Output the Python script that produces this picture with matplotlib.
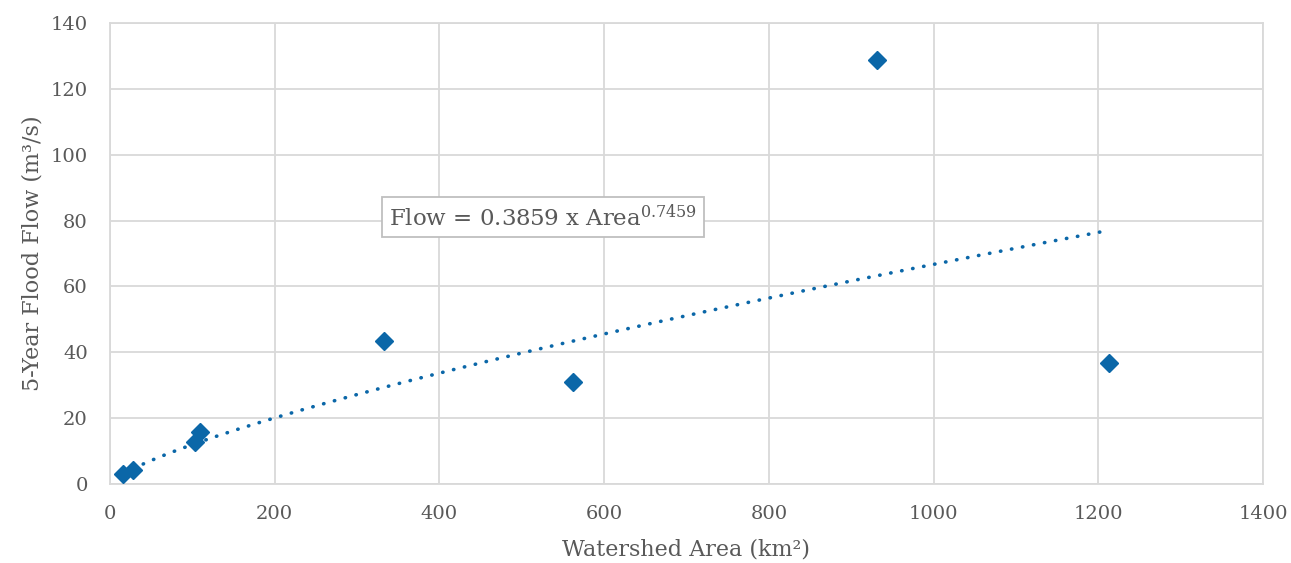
import numpy as np
import matplotlib
matplotlib.use("Agg")
import matplotlib.pyplot as plt

# watershed area (km2) and 5-year flood flow (m3/s)
area = [16, 28, 103, 109, 333, 562, 931, 1213]
flow = [3.0, 4.2, 12.8, 15.8, 43.4, 31.0, 128.8, 36.7]

# power trend shown on the chart
coef = 0.3859
expo = 0.7459

x_ticks = [0, 200, 400, 600, 800, 1000, 1200, 1400]
y_ticks = [0, 20, 40, 60, 80, 100, 120, 140]

blue = "#0B67A8"
grey_text = "#595959"
grid_col = "#D9D9D9"

plt.rcParams["font.family"] = ["DejaVu Serif"]
plt.rcParams["mathtext.fontset"] = "dejavuserif"

fig = plt.figure(figsize=(12.91, 5.63), dpi=100)
ax = fig.add_axes([0.0852, 0.1403, 0.8931, 0.8188])

trend_x = np.linspace(min(area), max(area), 200)
trend_y = coef * trend_x ** expo
ax.plot(trend_x, trend_y, linestyle=(0, (0.1, 3.0)), color=blue, linewidth=2.6,
        dash_capstyle="round", zorder=2)
ax.plot(area, flow, linestyle="none", marker="D", markersize=9.5, color=blue, zorder=3)

ax.set_xlim(0, 1400)
ax.set_ylim(0, 140)
ax.set_xticks(x_ticks)
ax.set_yticks(y_ticks)
ax.grid(True, color=grid_col, linewidth=1.3)
ax.set_axisbelow(True)
for spine in ax.spines.values():
    spine.set_color(grid_col)
    spine.set_linewidth(1.3)
ax.tick_params(length=0, labelsize=14, colors=grey_text)
ax.tick_params(axis="x", pad=15)
ax.tick_params(axis="y", pad=16)

ax.set_xlabel("Watershed Area (km²)", fontsize=16, color=grey_text, labelpad=11)
ax.set_ylabel("5-Year Flood Flow (m³/s)", fontsize=16, color=grey_text, labelpad=5)

ax.text(526, 81, f"Flow = {coef} x Area$^{{{expo}}}$", fontsize=16.5, color=grey_text,
        ha="center", va="center",
        bbox=dict(boxstyle="square,pad=0.3", facecolor="white", edgecolor="#BFBFBF", linewidth=1.3))

fig.savefig("out.png", dpi=100)
